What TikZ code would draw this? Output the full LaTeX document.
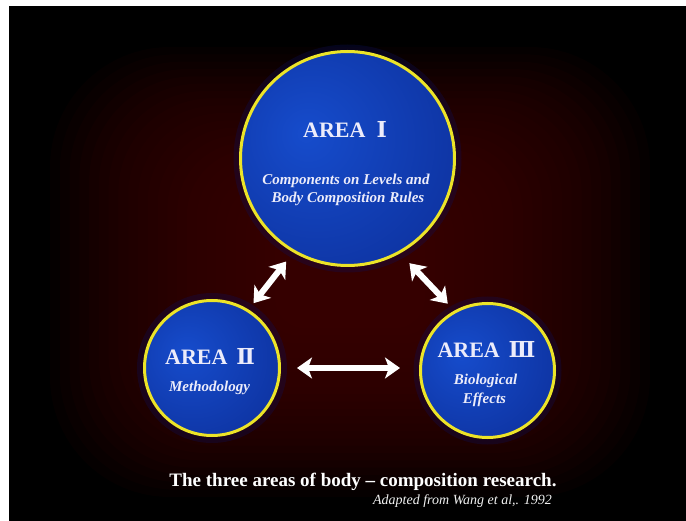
\documentclass[tikz,border=0pt]{standalone}
\usepackage{fontspec}
\setmainfont{Liberation Serif}
\newfontfamily\romfont{DejaVu Serif}
\usetikzlibrary{arrows.meta}
\definecolor{glowc}{RGB}{68,1,8}
\definecolor{bluein}{RGB}{22,76,204}
\definecolor{blueout}{RGB}{8,34,132}
\definecolor{ringy}{RGB}{236,228,40}
\definecolor{txtc}{RGB}{236,236,250}
\definecolor{haloc}{RGB}{12,16,90}
\pgfdeclareradialshading{ballblue}{\pgfpoint{-10bp}{6bp}}{color(0bp)=(bluein); color(58bp)=(blueout); color(80bp)=(blueout)}
\tikzset{
  area/.style={circle, draw=ringy, line width=3pt, shade, shading=ballblue, inner sep=0pt},
  halo/.style={draw=haloc, line width=6pt, opacity=0.3},
  glowstep/.style={fill=glowc, opacity=0.08},
  dblarrow/.style={draw=white, line width=6pt,
    {Stealth[length=15pt,width=21pt,inset=4pt]}-{Stealth[length=15pt,width=21pt,inset=4pt]}},
  areatitle/.style={text=txtc, font=\fontsize{22}{26}\selectfont\bfseries, anchor=base, inner sep=0pt},
  areasub/.style={text=txtc, font=\fontsize{15}{18}\selectfont\bfseries\itshape, anchor=base, inner sep=0pt},
  captext/.style={text=white, font=\fontsize{19}{22}\selectfont\bfseries, anchor=base, inner sep=0pt},
  credit/.style={text=white!90!gray, font=\fontsize{14}{16}\selectfont\itshape, anchor=base east, inner sep=0pt}
}
\begin{document}
\begin{tikzpicture}[x=1pt,y=-1pt]
\useasboundingbox (0,0) rectangle (686,521);
\fill[white] (0,0) rectangle (686,521);
\fill[black] (9,6) rectangle (686,521);
\begin{scope}
  \clip (9,6) rectangle (686,521);
  \foreach \i in {0,...,23} {
    \pgfmathsetmacro{\f}{1-0.75*\i/23}
    \fill[glowstep, rounded corners={120pt*\f}] ({350-300*\f},{272-225*\f}) rectangle ({350+300*\f},{272+225*\f});
  }
\end{scope}

% halos
\draw[halo] (347.5,158.5) circle (111pt);
\draw[halo] (212,368) circle (72pt);
\draw[halo] (487.5,370.5) circle (71pt);

% circles
\node[area, minimum size=214pt] (I) at (347.5,158.5) {};
\node[area, minimum size=135pt] (II) at (212,368) {};
\node[area, minimum size=134pt] (III) at (487.5,370.5) {};

% arrows
\draw[dblarrow, shorten <=11.5pt, shorten >=8pt] (I.240) -- (II.58);
\draw[dblarrow, shorten <=13.5pt, shorten >=9.5pt] (I.299) -- (III.119);
\draw[dblarrow, shorten <=16pt, shorten >=19pt] (II.east) -- (II.east -| III.west);

% texts
\node[areatitle] (t1) at (345,138) {AREA\hspace{0.5em}{\romfont Ⅰ}};
\node[areasub] (s1a) at (346,185) {Components on Levels and};
\node[areasub] (s1b) at (348,203) {Body Composition Rules};

\node[areatitle] (t2) at (210,365) {AREA\hspace{0.4em}{\romfont Ⅱ}};
\node[areasub] (s2) at (209.5,392) {Methodology};

\node[areatitle] (t3) at (486.5,358) {AREA\hspace{0.4em}{\romfont Ⅲ}};
\node[areasub] (s3a) at (485.5,385) {Biological};
\node[areasub] (s3b) at (484.5,404) {Effects};

\node[captext] (cap) at (363,486) {The three areas of body -- composition research.};
\node[credit] (src) at (552,504) {Adapted from Wang et al,. 1992};
\end{tikzpicture}
\end{document}
